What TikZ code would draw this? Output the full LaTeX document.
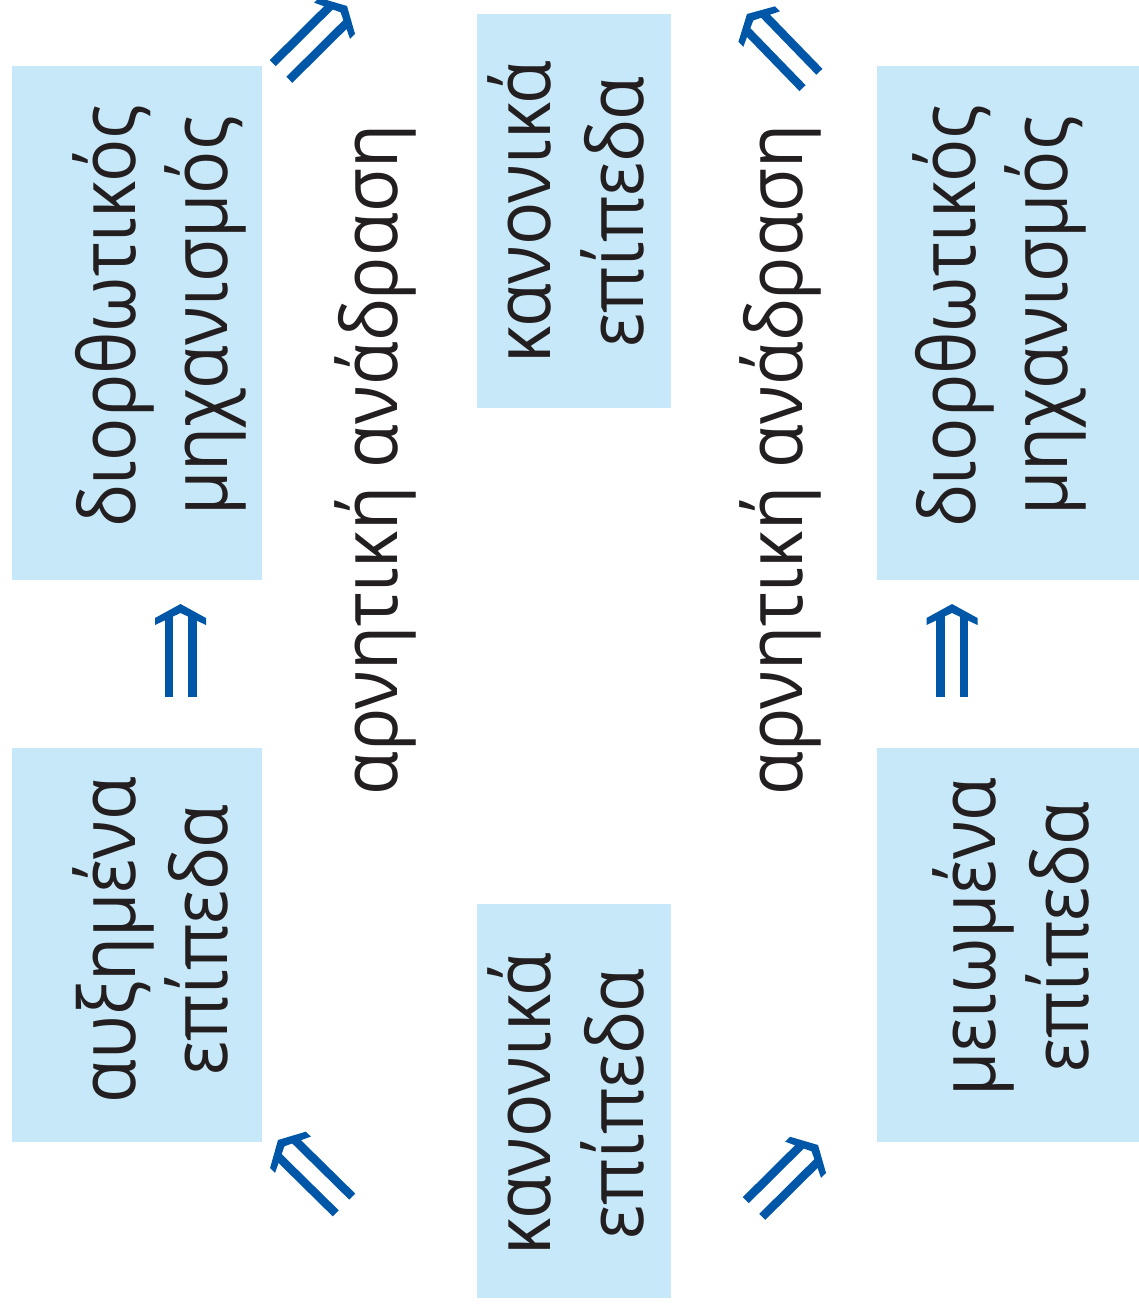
\documentclass[tikz,border=0pt]{standalone}
\usepackage{fontspec}
\setmainfont{Open Sans}[FakeStretch=0.92]
\usetikzlibrary{calc}
\definecolor{boxblue}{HTML}{C7E8F8}
\definecolor{arrblue}{HTML}{0057A8}
\definecolor{txtcol}{HTML}{231F20}
\tikzset{
  box/.style={fill=boxblue, draw=none, inner sep=0pt},
  txt/.style={text=txtcol, font=\fontsize{78}{92}\selectfont, inner sep=0pt, rotate=90, anchor=base},
  pics/dblarrow/.style={code={
    \fill[arrblue] (0pt,0pt) -- (-14pt,25.5pt) -- (-21pt,25.5pt) -- (-9pt,0pt) -- (-21pt,-25.5pt) -- (-14pt,-25.5pt) -- cycle;
    \fill[arrblue] (-#1pt,7.5pt) rectangle (-12pt,16pt);
    \fill[arrblue] (-#1pt,-7.5pt) rectangle (-12pt,-16pt);
  }}
}
\newcommand\dblarr[2]{%
  \path let \p1=($(#2)-(#1)$) in \pgfextra{\pgfmathsetmacro\arrang{atan2(\y1,\x1)}\pgfmathsetmacro\arrlen{veclen(\x1,\y1)}\global\let\garrang\arrang\global\let\garrlen\arrlen};
  \pic[rotate=\garrang] at (#2) {dblarrow=\garrlen};
}
\begin{document}
\begin{tikzpicture}[x=1pt,y=-1pt]
\useasboundingbox[fill=white] (0,0) rectangle (1139,1310);
% boxes
\node[box, minimum width=250pt, minimum height=514pt] (tl) at (137,323) {};
\node[box, minimum width=262pt, minimum height=514pt] (tr) at (1008,323) {};
\node[box, minimum width=250pt, minimum height=394pt] (bl) at (137,945) {};
\node[box, minimum width=262pt, minimum height=394pt] (br) at (1008,945) {};
\node[box, minimum width=194pt, minimum height=394pt] (tm) at (574,211) {};
\node[box, minimum width=194pt, minimum height=394pt] (bm) at (574,1101) {};
% texts
\node[txt] (tl1) at (135,316) {διορθωτικός};
\node[txt] (tl2) at (227,316) {μηχανισμός};
\node[txt] (tr1) at (975,316) {διορθωτικός};
\node[txt] (tr2) at (1067,316) {μηχανισμός};
\node[txt] (bl1) at (135,940) {αυξημένα};
\node[txt] (bl2) at (227,940) {επίπεδα};
\node[txt] (br1) at (995,937) {μειωμένα};
\node[txt] (br2) at (1088,937) {επίπεδα};
\node[txt] (tm1) at (550,212) {κανονικά};
\node[txt] (tm2) at (643,212) {επίπεδα};
\node[txt] (bm1) at (550,1104) {κανονικά};
\node[txt] (bm2) at (643,1104) {επίπεδα};
\node[txt] (fb1) at (397,460) {αρνητική ανάδραση};
\node[txt] (fb2) at (802,460) {αρνητική ανάδραση};
% arrows
\coordinate (t1) at (180.5,697); \coordinate (h1) at (180.5,604);
\coordinate (t2) at (952,697);   \coordinate (h2) at (952,604);
\coordinate (t3) at (281,71.5);  \coordinate (h3) at (347,6);
\coordinate (t4) at (811,80);    \coordinate (h4) at (747,14);
\coordinate (t5) at (344,1205);  \coordinate (h5) at (278,1140);
\coordinate (t6) at (754,1208.5);\coordinate (h6) at (818,1145);
\dblarr{t1}{h1}
\dblarr{t2}{h2}
\dblarr{t3}{h3}
\dblarr{t4}{h4}
\dblarr{t5}{h5}
\dblarr{t6}{h6}
\end{tikzpicture}
\end{document}
